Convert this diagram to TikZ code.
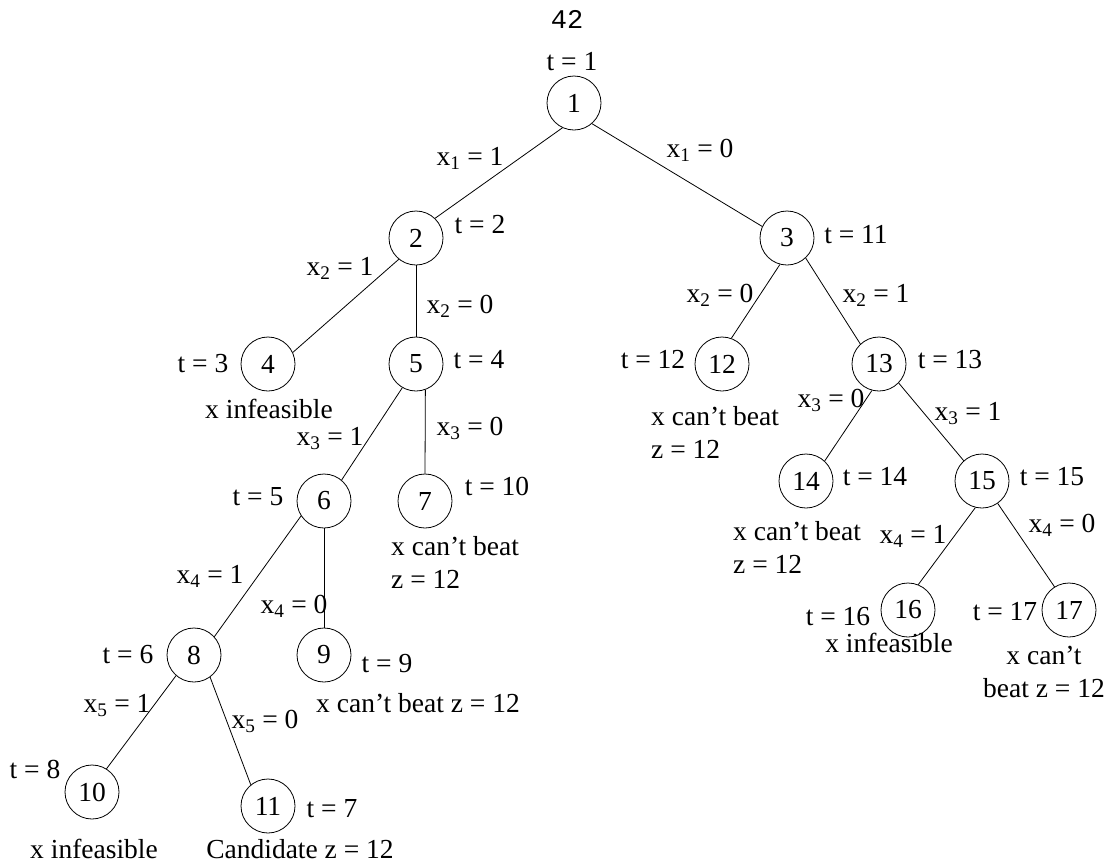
\documentclass[tikz,border=0pt]{standalone}
\usepackage{fontspec}
\setmainfont{Liberation Serif}
\setmonofont{Liberation Mono}
\usepackage{tikz}

\newcommand{\xeq}[2]{x\textsubscript{#1} = #2}

\begin{document}
\begin{tikzpicture}[x=1pt, y=-1pt,
        vert/.style={draw, circle, line width=0.8pt, minimum size=54pt,
                     inner sep=0pt, font=\fontsize{27.5}{30}\selectfont},
        lbl/.style={inner sep=0pt, anchor=base, font=\fontsize{27.5}{33}\selectfont},
        lblL/.style={lbl, anchor=base west, align=left},
        branch/.style={line width=0.8pt},
    ]
    \useasboundingbox (0,0) rectangle (1110,865);

    % ---- page number ----
    \node[lbl, font=\ttfamily\fontsize{27}{30}\selectfont] (page) at (567,28) {42};

    % ---- tree nodes ----
    \node[vert] (n1)  at (574,103) {1};
    \node[vert] (n2)  at (416,238) {2};
    \node[vert] (n3)  at (787,238) {3};
    \node[vert] (n4)  at (268,364) {4};
    \node[vert] (n5)  at (416,364) {5};
    \node[vert] (n12) at (722,364) {12};
    \node[vert] (n13) at (879,364) {13};
    \node[vert] (n6)  at (324,501) {6};
    \node[vert] (n7)  at (425,501) {7};
    \node[vert] (n14) at (806,481) {14};
    \node[vert] (n15) at (982,481) {15};
    \node[vert] (n8)  at (194,655) {8};
    \node[vert] (n9)  at (324,655) {9};
    \node[vert] (n16) at (908,610) {16};
    \node[vert] (n17) at (1069,610) {17};
    \node[vert] (n10) at (92,792) {10};
    \node[vert] (n11) at (268,806) {11};

    % ---- branches ----
    \draw[branch] (n1.-115)  -- (n2.46);
    \draw[branch] (n1.-49)   -- (n3.155);
    \draw[branch] (n2.-129)  -- (n4.25);
    \draw[branch] (n2.south) -- (n5.north);
    \draw[branch] (n5.-120)  -- (n6.50);
    \draw[branch] (n5.-70)   -- (n7.north);
    \draw[branch] (n6.-147)  -- (n8.42);
    \draw[branch] (n6.south) -- (n9.north);
    \draw[branch] (n8.-131)  -- (n10.58);
    \draw[branch] (n8.-54)   -- (n11.129);
    \draw[branch] (n3.-105)  -- (n12.70);
    \draw[branch] (n3.-47)   -- (n13.133);
    \draw[branch] (n13.-105) -- (n14.47);
    \draw[branch] (n13.-44)  -- (n15.132);
    \draw[branch] (n15.-104) -- (n16.68);
    \draw[branch] (n15.-55)  -- (n17.122);

    % ---- branch labels ----
    \node[lbl] (b1a) at (470,165) {\xeq{1}{1}};
    \node[lbl] (b1b) at (700,157) {\xeq{1}{0}};
    \node[lbl] (b2a) at (340,275) {\xeq{2}{1}};
    \node[lbl] (b2b) at (460,313) {\xeq{2}{0}};
    \node[lbl] (b3a) at (330,445) {\xeq{3}{1}};
    \node[lbl] (b3b) at (470,435) {\xeq{3}{0}};
    \node[lbl] (b4a) at (210,583) {\xeq{4}{1}};
    \node[lbl] (b4b) at (294,613) {\xeq{4}{0}};
    \node[lbl] (b5a) at (117,712) {\xeq{5}{1}};
    \node[lbl] (b5b) at (265,728) {\xeq{5}{0}};
    \node[lbl] (b2c) at (720,302) {\xeq{2}{0}};
    \node[lbl] (b2d) at (876,302) {\xeq{2}{1}};
    \node[lbl] (b3c) at (831,407) {\xeq{3}{0}};
    \node[lbl] (b3d) at (968,420) {\xeq{3}{1}};
    \node[lbl] (b4c) at (913,543) {\xeq{4}{1}};
    \node[lbl] (b4d) at (1062,532) {\xeq{4}{0}};

    % ---- step counters ----
    \node[lbl] (t1)  at (572,70)  {t = 1};
    \node[lbl] (t2)  at (480,233) {t = 2};
    \node[lbl] (t3)  at (203,372) {t = 3};
    \node[lbl] (t4)  at (479,368) {t = 4};
    \node[lbl] (t5)  at (258,505) {t = 5};
    \node[lbl] (t6)  at (128,663) {t = 6};
    \node[lbl] (t7)  at (332,817) {t = 7};
    \node[lbl] (t8)  at (35,778)  {t = 8};
    \node[lbl] (t9)  at (387,672) {t = 9};
    \node[lbl] (t10) at (497,495) {t = 10};
    \node[lbl] (t11) at (856,243) {t = 11};
    \node[lbl] (t12) at (653,368) {t = 12};
    \node[lbl] (t13) at (950,368) {t = 13};
    \node[lbl] (t14) at (875,485) {t = 14};
    \node[lbl] (t15) at (1052,485) {t = 15};
    \node[lbl] (t16) at (838,625) {t = 16};
    \node[lbl] (t17) at (1005,620) {t = 17};

    % ---- outcomes (base = last line) ----
    \node[lbl]  (o4)  at (269,418) {x infeasible};
    \node[lblL] (o7)  at (391,588) {x can't beat\\z = 12};
    \node[lblL] (o9)  at (316,712) {x can't beat z = 12};
    \node[lbl]  (o10) at (94,858)  {x infeasible};
    \node[lbl]  (o11) at (300,858) {Candidate z = 12};
    \node[lblL] (o12) at (651,458) {x can't beat\\z = 12};
    \node[lblL] (o14) at (733,573) {x can't beat\\z = 12};
    \node[lbl]  (o16) at (889,652) {x infeasible};
    \node[lbl, align=center] (o17) at (1044,697) {x can't\\beat z = 12};

\end{tikzpicture}
\end{document}
